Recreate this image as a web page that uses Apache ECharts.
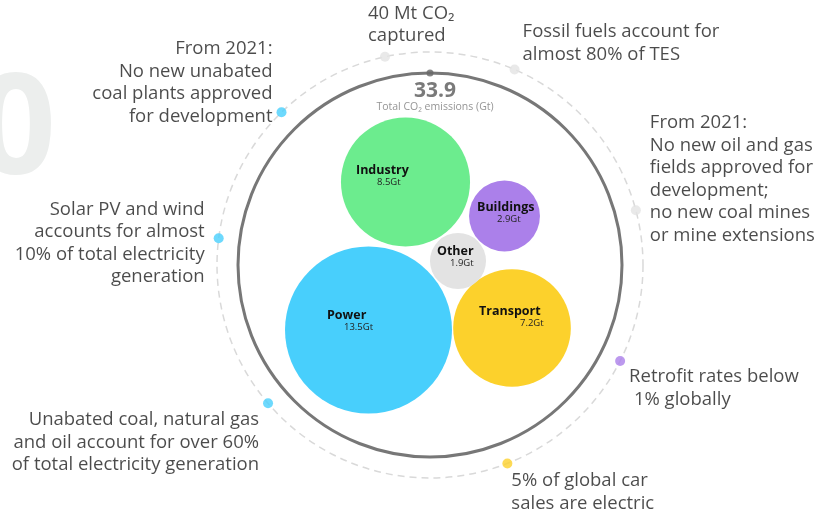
<!DOCTYPE html>
<html><head><meta charset="utf-8">
<script src="https://cdn.jsdelivr.net/npm/echarts@6/dist/echarts.min.js"></script>
<style>html,body{margin:0;padding:0;background:#fff}#c{width:832px;height:519px}</style>
</head><body><div id="c"></div>
<script>
// ---- data ----
const sectors = ['Power', 'Industry', 'Transport', 'Buildings', 'Other'];
const emissionsGt = [13.5, 8.5, 7.2, 2.9, 1.9];
const totalEmissionsGt = 33.9;
const totalLabel = 'Total CO\u2082 emissions (Gt)';
const annotationTexts = [
  'From 2021:\nNo new unabated\ncoal plants approved\nfor development',
  '40 Mt CO\u2082\ncaptured',
  'Fossil fuels account for\nalmost 80% of TES',
  'From 2021:\nNo new oil and gas\nfields approved for\ndevelopment;\nno new coal mines\nor mine extensions',
  'Solar PV and wind\naccounts for almost\n10% of total electricity\ngeneration',
  'Unabated coal, natural gas\nand oil account for over 60%\nof total electricity generation',
  'Retrofit rates below\n 1% globally',
  '5% of global car\nsales are electric'
];
const annotationSector = ['Power', 'Other', 'Other', 'Other', 'Power', 'Power', 'Buildings', 'Transport'];

// ---- layout / style (not data) ----
const sectorColors = { Power: '#48cffc', Industry: '#6cec8e', Transport: '#fcd12c', Buildings: '#ab80ea', Other: '#e3e3e3' };
const bubblePos = [[-61.5, -65], [-24.5, 83], [82, -63], [74.5, 49], [28, 4]];
const bubbleLabelOffset = [[-41.5, -21.5], [-49.5, -18.5], [-33, -23.5], [-27.5, -15.5], [-21, -16.5]];
const bubbleValueIndent = [17, 21, 41, 20, 13];
const annotationAngle = [134.2, 102.2, 66.6, 14.9, 172.8, 220.5, 333.2, 291.3];
const annotationAlign = ['right', 'left', 'left', 'left', 'right', 'right', 'left', 'left'];
const annotationOffset = [[-9, -29.5], [-17, -32], [8, -26.5], [14, -31], [-14, 5], [-9, 39], [9, 27], [4, 29]];
const CX = 430, CY = 265, R_DASH = 213, R_RING = 192;
const FONT = "'Open Sans', sans-serif";

const chart = echarts.init(document.getElementById('c'), null, { renderer: 'canvas' });

const maxV = Math.max(...emissionsGt);
const bubbleData = sectors.map((s, i) => ({
  name: s,
  value: [bubblePos[i][0], bubblePos[i][1], emissionsGt[i]],
  itemStyle: { color: sectorColors[s], opacity: 1 },
  label: {
    offset: bubbleLabelOffset[i],
    rich: {
      n: { fontFamily: FONT, fontSize: 12.5, fontWeight: 'bold', color: '#111', lineHeight: 13, align: 'left' },
      v: { fontFamily: FONT, fontSize: 9.5, color: '#222', lineHeight: 11, align: 'left', padding: [0, 0, 0, bubbleValueIndent[i]] }
    }
  }
}));

const annData = annotationTexts.map((t, i) => ({
  name: t,
  value: [R_DASH, annotationAngle[i]],
  itemStyle: { color: sectorColors[annotationSector[i]] },
  label: {
    show: true, position: 'inside', formatter: t,
    align: annotationAlign[i], verticalAlign: 'middle',
    offset: annotationOffset[i],
    fontFamily: FONT, fontSize: 18.5, lineHeight: 22.5, color: '#1e1e1e'
  }
}));

const angleAxisBase = (style) => ({
  type: 'value', min: 0, max: 360, startAngle: 0, clockwise: false,
  axisLine: { show: true, lineStyle: style },
  axisTick: { show: false }, axisLabel: { show: false }, splitLine: { show: false }
});

chart.setOption({
  animation: false,
  backgroundColor: '#ffffff',
  title: {
    text: String(totalEmissionsGt), subtext: totalLabel,
    left: CX, top: 76, textAlign: 'center', itemGap: 0,
    textStyle: { fontFamily: FONT, fontSize: 21, fontWeight: 'bold', color: '#7a7a7a', lineHeight: 21 },
    subtextStyle: { fontFamily: FONT, fontSize: 10.5, color: '#959595', lineHeight: 11 }
  },
  graphic: [{
    type: 'text', x: 56, y: 134, z: -10,
    style: { text: '0', font: "bold 140px 'Open Sans', sans-serif", fill: '#eceeed', textAlign: 'right', textVerticalAlign: 'middle' }
  }],
  polar: [
    { center: [CX, CY], radius: R_DASH },
    { center: [CX, CY], radius: R_RING }
  ],
  angleAxis: [
    angleAxisBase({ color: '#d9d9d9', width: 1.5, type: [7, 5] }),
    Object.assign(angleAxisBase({ color: '#777', width: 3 }), { polarIndex: 1 })
  ],
  radiusAxis: [
    { type: 'value', min: 0, max: R_DASH, show: false, polarIndex: 0 },
    { type: 'value', min: 0, max: R_RING, show: false, polarIndex: 1 }
  ],
  grid: { left: CX - R_DASH, top: CY - R_DASH, width: 2 * R_DASH, height: 2 * R_DASH },
  xAxis: { type: 'value', min: -R_DASH, max: R_DASH, show: false },
  yAxis: { type: 'value', min: -R_DASH, max: R_DASH, show: false },
  series: [
    {
      type: 'scatter', coordinateSystem: 'polar', polarIndex: 0,
      symbol: 'circle', symbolSize: 10, z: 5,
      data: annData, silent: true
    },
    {
      type: 'scatter', coordinateSystem: 'polar', polarIndex: 0,
      symbol: 'circle', symbolSize: 7, z: 6,
      itemStyle: { color: '#666' },
      data: [[R_RING, 90]], silent: true
    },
    {
      type: 'scatter', coordinateSystem: 'cartesian2d',
      symbol: 'circle', z: 4,
      symbolSize: (v) => 2 * 83.5 * Math.pow(v[2] / maxV, 0.557),
      data: bubbleData,
      label: {
        show: true, position: 'inside', align: 'left', verticalAlign: 'top',
        formatter: (p) => '{n|' + p.name + '}\n{v|' + p.value[2] + 'Gt}'
      },
      silent: true
    }
  ]
});
</script></body></html>
